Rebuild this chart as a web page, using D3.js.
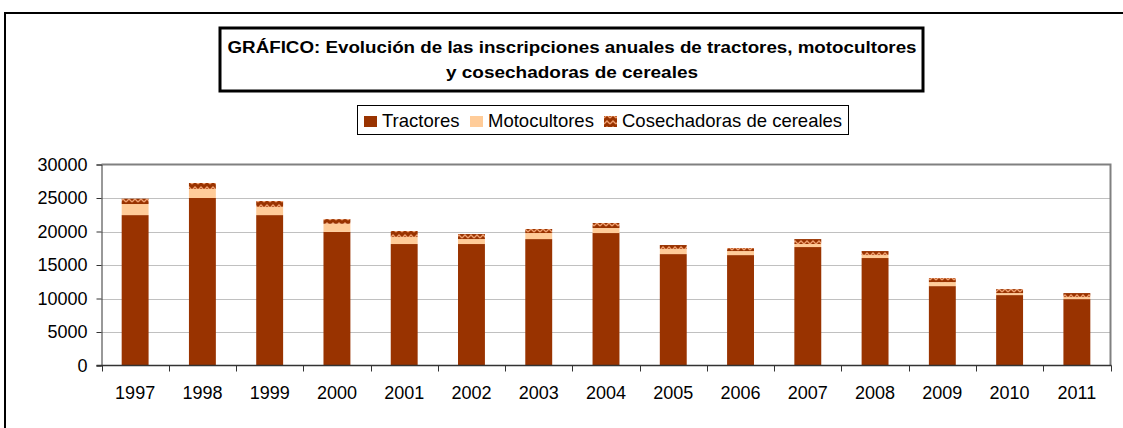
<!DOCTYPE html>
<html>
<head>
<meta charset="utf-8">
<script src="https://cdn.jsdelivr.net/npm/d3@7"></script>
<style>
  body { margin: 0; background: #fff; }
  svg { display: block; font-family: "Liberation Sans", Arial, sans-serif; }
</style>
</head>
<body>
<div class="chart"></div>
<script>
// data
var years = ['1997','1998','1999','2000','2001','2002','2003','2004','2005','2006','2007','2008','2009','2010','2011'];
var tractores    = [22450, 25000, 22450, 19950, 18130, 18130, 18870, 19770, 16630, 16480, 17680, 16040, 11850, 10510, 9910];
var motocultores = [1650, 1340, 1200, 1200, 1040, 740, 900, 750, 750, 600, 450, 440, 600, 300, 300];
var cosechadoras = [800, 900, 900, 700, 900, 750, 600, 750, 600, 450, 740, 600, 600, 590, 600];
var seriesNames = ['Tractores', 'Motocultores', 'Cosechadoras de cereales'];
var yTicks = [0, 5000, 10000, 15000, 20000, 25000, 30000];

var W = 1123, H = 428;
var plot = { left: 101.5, right: 1110.5, top: 164.5, bottom: 365.5 };
var FONT = '"Liberation Sans", Arial, sans-serif';

var svg = d3.select('.chart').append('svg')
  .attr('width', W)
  .attr('height', H);

// pattern for cosechadoras
var defs = svg.append('defs');
var pat = defs.append('pattern')
  .attr('id', 'zig')
  .attr('patternUnits', 'userSpaceOnUse')
  .attr('width', 6)
  .attr('height', 6);
pat.append('rect').attr('width', 6).attr('height', 6).attr('fill', '#993300');
pat.append('path')
  .attr('d', 'M0,4 L3,1 L6,4')
  .attr('fill', 'none')
  .attr('stroke', '#f0a070')
  .attr('stroke-width', 1.3);

var colors = ['#993300', '#ffcc99', 'url(#zig)'];

// outer frame (runs off the right and bottom edges)
svg.append('rect')
  .attr('x', 5).attr('y', 13)
  .attr('width', W + 10).attr('height', H + 10)
  .attr('fill', 'none')
  .attr('stroke', '#000')
  .attr('stroke-width', 2);

// title box
svg.append('rect')
  .attr('x', 220).attr('y', 28)
  .attr('width', 703).attr('height', 63)
  .attr('fill', '#fff')
  .attr('stroke', '#000')
  .attr('stroke-width', 3);

var titleLines = [
  { text: 'GRÁFICO: Evolución de las inscripciones anuales de tractores, motocultores', y: 53, len: 689 },
  { text: 'y cosechadoras de cereales', y: 78, len: 252 }
];
svg.selectAll('.title')
  .data(titleLines)
  .enter().append('text')
  .attr('class', 'title')
  .attr('x', 572)
  .attr('y', function(d){ return d.y; })
  .attr('text-anchor', 'middle')
  .attr('font-weight', 'bold')
  .attr('font-size', 16)
  .attr('textLength', function(d){ return d.len; })
  .attr('lengthAdjust', 'spacingAndGlyphs')
  .text(function(d){ return d.text; });

// legend
svg.append('rect')
  .attr('x', 357.5).attr('y', 105.5)
  .attr('width', 491).attr('height', 29)
  .attr('fill', '#fff')
  .attr('stroke', '#000')
  .attr('stroke-width', 1);

var legendX = [364, 470, 604];
var leg = svg.selectAll('.leg')
  .data(seriesNames)
  .enter().append('g')
  .attr('class', 'leg')
  .attr('transform', function(d, i){ return 'translate(' + legendX[i] + ',0)'; });
leg.append('rect')
  .attr('y', 116)
  .attr('width', 13).attr('height', 11)
  .attr('fill', function(d, i){ return colors[i]; });
leg.append('text')
  .attr('x', 18).attr('y', 127)
  .attr('font-size', 18.5)
  .text(function(d){ return d; });

// scales
var x = d3.scaleBand()
  .domain(years)
  .range([plot.left, plot.right])
  .paddingInner(0.6)
  .paddingOuter(0.3);

var y = d3.scaleLinear()
  .domain([0, 30000])
  .range([plot.bottom, plot.top]);

// gridlines
svg.append('g')
  .selectAll('line')
  .data(yTicks.slice(1, -1))
  .enter().append('line')
  .attr('x1', plot.left).attr('x2', plot.right)
  .attr('y1', function(d){ return Math.round(y(d)) + 0.5; })
  .attr('y2', function(d){ return Math.round(y(d)) + 0.5; })
  .attr('stroke', '#c0c0c0')
  .attr('stroke-width', 1);

// top and right frame
svg.append('path')
  .attr('d', 'M' + plot.left + ',' + plot.top + 'H' + plot.right + 'V' + plot.bottom)
  .attr('fill', 'none')
  .attr('stroke', '#808080')
  .attr('stroke-width', 2);

// stacked bars
var table = years.map(function(yr, i){
  return { year: yr, Tractores: tractores[i], Motocultores: motocultores[i], 'Cosechadoras de cereales': cosechadoras[i] };
});
var stacked = d3.stack().keys(seriesNames)(table);

svg.append('g')
  .selectAll('g')
  .data(stacked)
  .enter().append('g')
  .attr('fill', function(d, i){ return colors[i]; })
  .selectAll('rect')
  .data(function(d){ return d; })
  .enter().append('rect')
  .attr('x', function(d){ return x(d.data.year); })
  .attr('width', x.bandwidth())
  .attr('y', function(d){ return y(d[1]); })
  .attr('height', function(d){ return y(d[0]) - y(d[1]); });

// y axis
var yAxis = svg.append('g')
  .attr('transform', 'translate(' + plot.left + ',0)')
  .call(d3.axisLeft(y).tickValues(yTicks).tickSize(5).tickPadding(9).tickFormat(d3.format('d')));
yAxis.select('.domain').attr('stroke', '#333');
yAxis.selectAll('.tick line').attr('stroke', '#333');
yAxis.selectAll('text')
  .attr('font-size', 18)
  .attr('fill', '#000')
  .style('font-family', FONT);

// x axis: ticks between categories
var bounds = d3.range(years.length + 1).map(function(i){ return plot.left + i * (plot.right - plot.left) / years.length; });
var xAxis = svg.append('g');
xAxis.append('line')
  .attr('x1', plot.left - 5).attr('x2', plot.right + 1)
  .attr('y1', plot.bottom).attr('y2', plot.bottom)
  .attr('stroke', '#333').attr('stroke-width', 1.5);
xAxis.selectAll('.xt')
  .data(bounds)
  .enter().append('line')
  .attr('class', 'xt')
  .attr('x1', function(d){ return Math.round(d) + 0.5; })
  .attr('x2', function(d){ return Math.round(d) + 0.5; })
  .attr('y1', plot.bottom).attr('y2', plot.bottom + 6)
  .attr('stroke', '#333');
xAxis.selectAll('.xl')
  .data(years)
  .enter().append('text')
  .attr('class', 'xl')
  .attr('x', function(d){ return x(d) + x.bandwidth() / 2; })
  .attr('y', 399)
  .attr('text-anchor', 'middle')
  .attr('font-size', 18)
  .text(function(d){ return d; });
</script>
</body>
</html>
